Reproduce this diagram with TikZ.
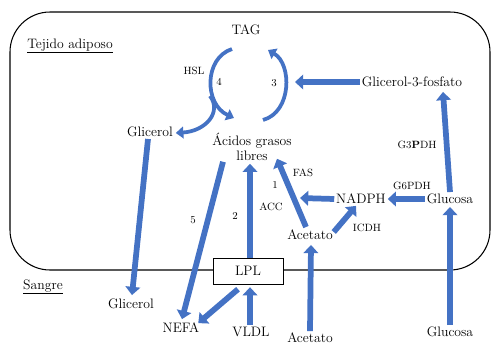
\documentclass[tikz,border=0pt]{standalone}
\usetikzlibrary{arrows.meta,calc}
\definecolor{arrblue}{RGB}{68,114,196}
\begin{document}
\begin{tikzpicture}[x=0.03cm,y=-0.03cm,
  lbl/.style={inner sep=1.5pt,font=\fontsize{11.7}{12.8}\selectfont},
  sml/.style={inner sep=1pt,font=\fontsize{9}{10}\selectfont},
  bigarr/.style={draw=arrblue,line width=4.9pt,-{Triangle[width=12.5pt,length=7pt]}},
  arcarr/.style={draw=arrblue,line width=3.2pt,-{Triangle[width=10pt,length=6.5pt]}}]
\useasboundingbox (0,0) rectangle (499,354);
\draw[line width=0.9pt,rounded corners=1.2cm] (10,12) rectangle (490,270);

% nodes
\node[lbl] (tag) at (246,30) {TAG};
\node[lbl] (tejido) at (70,46) {\underline{Tejido adiposo}};
\node[lbl] (g3p) at (412,82) {Glicerol-3-fosfato};
\node[sml] (hsl) at (194,71) {HSL};
\node[sml] (n4) at (219,82) {4};
\node[sml] (n3) at (274,83) {3};
\node[lbl] (glic1) at (150,132) {Glicerol};
\node[lbl,align=center] (agl) at (252,147) {\'Acidos grasos\\libres};
\node[sml] (g3pdh) at (417,145) {G3\textbf{P}DH};
\node[sml] (fas) at (303,173) {FAS};
\node[sml] (n1) at (275,185) {1};
\node[sml] (acc) at (271,207) {ACC};
\node[sml] (n2) at (235,216) {2};
\node[sml] (n5) at (193,220) {5};
\node[lbl] (nadph) at (361,199) {NADPH};
\node[sml] (g6pdh) at (412,186) {G6PDH};
\node[lbl] (gluc1) at (450,199) {Glucosa};
\node[lbl] (acet1) at (310,235) {Acetato};
\node[sml] (icdh) at (367,228) {ICDH};
\node[lbl] (sangre) at (43,287) {\underline{Sangre}};
\node[lbl] (glic2) at (131,304) {Glicerol};
\node[lbl] (nefa) at (181,328) {NEFA};
\node[lbl] (vldl) at (251,332) {VLDL};
\node[lbl] (acet2) at (310,338) {Acetato};
\node[lbl] (gluc2) at (450,332) {Glucosa};
\node[draw,fill=white,line width=0.5pt,minimum width=59.5pt,minimum height=22pt,inner sep=0pt,font=\fontsize{11.7}{12.8}\selectfont] (lpl) at (248,271) {LPL};

% coordinates for arc ends
\coordinate (a3b) at (263,120);
\coordinate (a3t) at (268,50);
\coordinate (a3r) at (295,82);
\coordinate (a4t) at (232,49);
\coordinate (a4b) at (234,118);
\coordinate (a4br) at (210,96);
\coordinate (nadphTip) at (300,198);

% arcs
\draw[arcarr] (a3b) .. controls (292,112) and (292,64) .. (a3t);
\draw[arcarr] (a4t) .. controls (204,58) and (204,104) .. (a4b);
\draw[arcarr] (a4br) .. controls (222,112) and (206,131) .. ($(glic1.east)+(1,1)$);

% arrows
\draw[bigarr] (g3p.west) -- (a3r);
\draw[bigarr] ($(glic1.south)+(-2,0)$) -- ($(glic2.north)+(1,-2)$);
\draw[bigarr] ($(agl.south)+(-29,-1)$) -- ($(nefa.north)+(1,-2)$);
\draw[bigarr] ($(lpl.north)+(2,0)$) -- ($(agl.south)+(-2,1)$);
\draw[bigarr] ($(acet1.north)+(-4,-1)$) -- ($(agl.south)+(25,-4)$);
\draw[bigarr] (nadph.west) -- (nadphTip);
\draw[bigarr] ($(acet1.east)+(-1,-3)$) -- ($(nadph.south)+(-5,0)$);
\draw[bigarr] (gluc1.west) -- (nadph.east);
\draw[bigarr] (gluc1.north) -- ($(g3p.south)+(31,3)$);
\draw[bigarr] (acet2.north) -- ($(acet1.south)+(1,3)$);
\draw[bigarr] (gluc2.north) -- ($(gluc1.south)+(0,1)$);
\draw[bigarr] ($(lpl.south)+(-10,5)$) -- ($(nefa.north east)+(-3,2)$);
\draw[bigarr] ($(vldl.north)+(-1,0)$) -- ($(lpl.south)+(2,3)$);
\end{tikzpicture}
\end{document}
